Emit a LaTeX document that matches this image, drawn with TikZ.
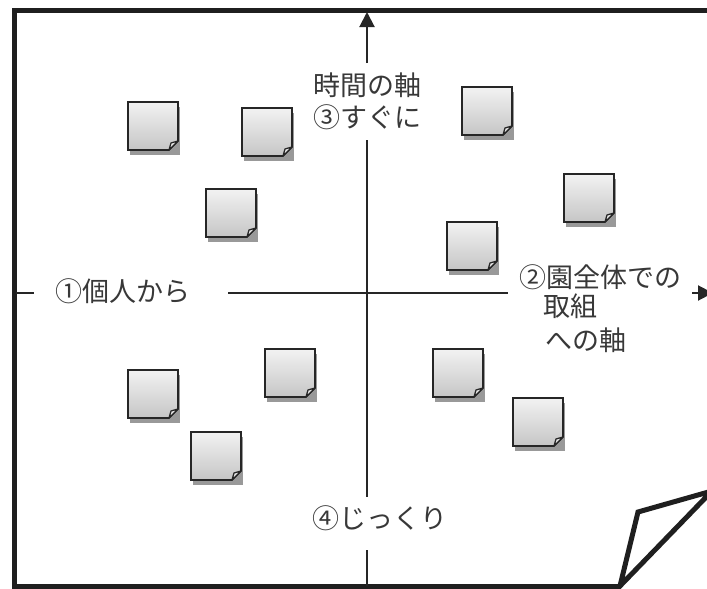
\documentclass[tikz,border=0pt]{standalone}
\usepackage{fontspec}
\newfontfamily\jp{Noto Sans CJK JP}
\usetikzlibrary{arrows.meta,calc}
\tikzset{
  frame/.style={line width=5pt, draw=black!88, line join=miter},
  axis/.style={line width=2pt, draw=black!85},
  lbl/.style={inner sep=0pt, text=black!78, font=\jp\fontsize{27}{31}\selectfont},
  notebox/.style={minimum width=50pt, minimum height=48pt, inner sep=0pt, outer sep=0pt},
  notesh/.style={fill=black!40},
  notebody/.style={draw=black!85, line width=1.6pt, top color=gray!10, bottom color=gray!45, line join=miter},
  notefold/.style={draw=black!85, line width=1.3pt, fill=gray!15, line join=round},
  tip/.style={-{Triangle[length=15pt,width=15pt]}}
}
\newcommand\stickynote[3]{%
  \node[notebox] (#1) at (#2,#3) {};
  \fill[notesh] ([shift={(2,5)}]#1.north west) rectangle ([shift={(2,5)}]#1.south east);
  \path[notebody] (#1.north west) -- (#1.north east) -- ([yshift=9pt]#1.south east) -- ([xshift=-9pt]#1.south east) -- (#1.south west) -- cycle;
  \path[notefold] ([xshift=-9pt]#1.south east) -- ([yshift=9pt]#1.south east) -- ([shift={(-7,-7)}]#1.south east) -- cycle;
}
\begin{document}
\begin{tikzpicture}[x=1pt,y=-1pt]
\useasboundingbox (0,0) rectangle (707,589);
\clip (0,0) rectangle (707,589);
% frame
\draw[frame] (712,10) -- (14,10) -- (14,586) -- (620,586);
\draw[frame] (620,586) -- (638,512) -- (712,491) -- cycle;
% labels
\node[lbl] (t3a) at (367,85) {時間の軸};
\node[lbl] (t3b) at (367,117) {③すぐに};
\node[lbl] (t1) at (123,291) {①個人から};
\node[lbl, anchor=west] (t2) at (519,277) {②園全体での};
\node[lbl, anchor=west] (t2b) at (543,306) {取組};
\node[lbl, anchor=west] (t2c) at (545,340) {への軸};
\node[lbl] (t4) at (380,518) {④じっくり};
% axes
\coordinate (vtop) at (367,12);
\coordinate (va) at (367,63);
\coordinate (vb) at (367,140);
\coordinate (vc) at (367,497);
\coordinate (vd) at (367,550);
\coordinate (ve) at (367,586);
\draw[axis,tip] (va) -- (vtop);
\draw[axis] (vb) -- (vc);
\draw[axis] (vd) -- (ve);
\coordinate (h0) at (16,293);
\coordinate (h1) at (34,293);
\coordinate (h2) at (228,293);
\coordinate (h3) at (508,293);
\coordinate (h4) at (692,293);
\coordinate (h5) at (713,293);
\draw[axis] (h0) -- (h1);
\draw[axis] (h2) -- (h3);
\draw[axis,tip] (h4) -- (h5);
% sticky notes
\stickynote{nA}{153}{126}
\stickynote{nB}{267}{132}
\stickynote{nC}{231}{213}
\stickynote{nD}{487}{111}
\stickynote{nE}{589}{198}
\stickynote{nF}{472}{246}
\stickynote{nG}{290}{373}
\stickynote{nH}{153}{394}
\stickynote{nI}{216}{456}
\stickynote{nJ}{458}{373}
\stickynote{nK}{538}{422}
\end{tikzpicture}
\end{document}
